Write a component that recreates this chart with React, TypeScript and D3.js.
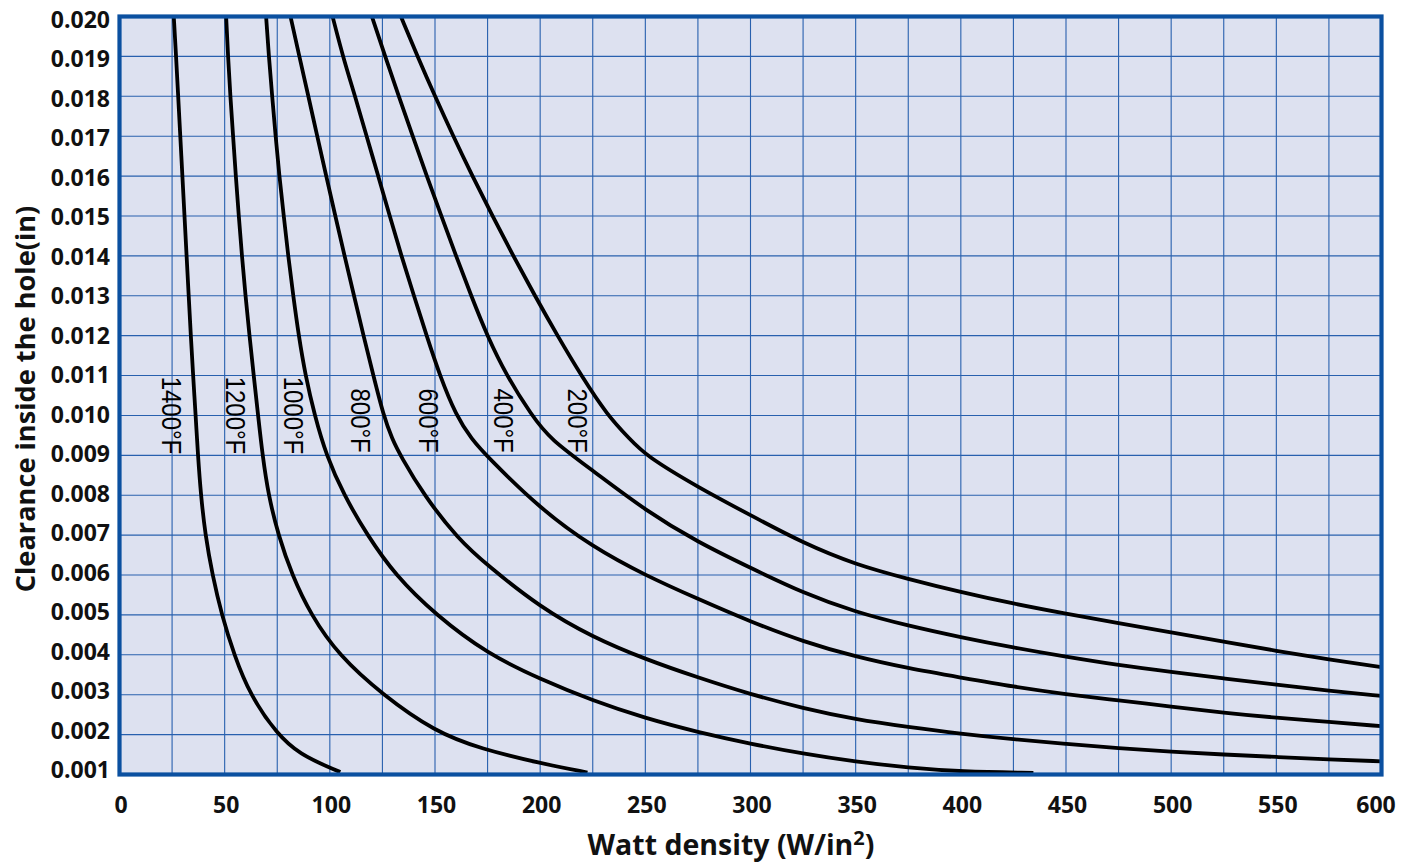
import { useEffect, useRef } from "react";
import * as d3 from "d3";

// tick labels
const X_TICKS = [0, 50, 100, 150, 200, 250, 300, 350, 400, 450, 500, 550, 600];
const Y_TICKS = [
  0.001, 0.002, 0.003, 0.004, 0.005, 0.006, 0.007, 0.008, 0.009, 0.01,
  0.011, 0.012, 0.013, 0.014, 0.015, 0.016, 0.017, 0.018, 0.019, 0.02,
];

// curves: [watt density, clearance]
const C1400: [number, number][] = [
  [25.8, 0.02], [26.9, 0.019], [27.9, 0.018], [28.9, 0.017], [29.9, 0.016], [30.9, 0.015],
  [31.9, 0.014], [32.9, 0.013], [33.9, 0.012], [35, 0.011], [36.2, 0.01], [37.3, 0.009],
  [38.7, 0.008], [40.8, 0.007], [44.2, 0.006], [48.6, 0.005], [54.5, 0.004], [62, 0.003],
  [75, 0.002], [86, 0.0015], [100, 0.00117], [105, 0.00106],
];
const C1200: [number, number][] = [
  [50.7, 0.02], [51.6, 0.019], [52.7, 0.018], [54, 0.017], [55.3, 0.016], [56.7, 0.015],
  [58.2, 0.014], [59.9, 0.013], [61.8, 0.012], [63.8, 0.011], [65.9, 0.01], [68, 0.009],
  [70.8, 0.008], [75.5, 0.007], [82, 0.006], [91, 0.005], [104, 0.004], [125, 0.003],
  [150, 0.00207], [172, 0.00164], [200, 0.00128], [222.5, 0.00105],
];
const C1000: [number, number][] = [
  [69.7, 0.02], [71, 0.019], [72.6, 0.018], [74.2, 0.017], [76, 0.016], [78.1, 0.015],
  [80.2, 0.014], [82.6, 0.013], [85.2, 0.012], [88.4, 0.011], [92.8, 0.01], [98.3, 0.009],
  [106.7, 0.008], [117.8, 0.007], [131, 0.006], [150.3, 0.005], [175, 0.00402],
  [200, 0.00339], [225, 0.00285], [250, 0.00241], [275, 0.00206], [300, 0.00177],
  [325, 0.00152], [350, 0.00132], [375, 0.00117], [400, 0.00107], [434.5, 0.00104],
];
const C800: [number, number][] = [
  [81.3, 0.02], [85.5, 0.019], [89.8, 0.018], [94, 0.017], [98.3, 0.016], [102.6, 0.015],
  [107, 0.014], [111.5, 0.013], [116, 0.012], [120.7, 0.011], [125.5, 0.01],
  [129.7, 0.0094], [133.5, 0.009], [144.7, 0.008], [161, 0.0069], [175, 0.00624],
  [200, 0.00519], [225, 0.00444], [250, 0.00389], [275, 0.00343], [300, 0.00301],
  [325, 0.00266], [350, 0.00238], [375, 0.00219], [400, 0.00202], [425, 0.00188],
  [450, 0.00177], [475, 0.00166], [500, 0.00157], [525, 0.0015], [550, 0.00144],
  [575, 0.00138], [600, 0.00133],
];
const C600: [number, number][] = [
  [101.3, 0.02], [106.2, 0.019], [112, 0.018], [117.5, 0.017], [123, 0.016], [128.5, 0.015],
  [134, 0.014], [140, 0.013], [146, 0.012], [152.3, 0.011], [160, 0.01], [167.5, 0.0094],
  [175, 0.00896], [200, 0.00766], [225, 0.0067], [250, 0.00599], [275, 0.0054],
  [300, 0.00483], [325, 0.00433], [350, 0.00395], [375, 0.00366], [400, 0.00343],
  [425, 0.0032], [450, 0.00301], [475, 0.00286], [500, 0.0027], [525, 0.00255],
  [550, 0.00242], [575, 0.00232], [600, 0.00221],
];
const C400: [number, number][] = [
  [120, 0.02], [126.3, 0.019], [132.8, 0.018], [139.4, 0.017], [146.1, 0.016], [153, 0.015],
  [160, 0.014], [167.2, 0.013], [174.8, 0.012], [184, 0.011], [196, 0.01], [204.8, 0.0094],
  [225, 0.00862], [250, 0.00762], [275, 0.00682], [300, 0.00618], [325, 0.00555],
  [350, 0.00507], [375, 0.00473], [400, 0.00444], [425, 0.00418], [450, 0.00395],
  [475, 0.00374], [500, 0.00357], [525, 0.00341], [550, 0.00325], [575, 0.0031],
  [600, 0.00297],
];
const C200: [number, number][] = [
  [133.8, 0.02], [141.7, 0.019], [150, 0.018], [158.7, 0.017], [167.8, 0.016],
  [177.3, 0.015], [187.2, 0.014], [197.5, 0.013], [208.2, 0.012], [219.5, 0.011], [232, 0.01],
  [242.8, 0.0094], [250, 0.009], [275, 0.0082], [300, 0.0075], [325, 0.0068],
  [350, 0.00626], [375, 0.0059], [400, 0.00557], [425, 0.00528], [450, 0.00503],
  [475, 0.00479], [500, 0.00456], [525, 0.00433], [550, 0.0041], [575, 0.00388],
  [600, 0.00369],
];

const LABELS = ["1400°F", "1200°F", "1000°F", "800°F", "600°F", "400°F", "200°F"];
const CURVES = [C1400, C1200, C1000, C800, C600, C400, C200];
// where each curve label sits, in chart units
const LABEL_X = [24.8, 54.9, 82.6, 114.5, 147, 182.5, 217.5];
const LABEL_Y = [0.01, 0.01, 0.01, 0.00987, 0.00987, 0.00987, 0.00987];

const W = 1414;
const H = 863;

export default function App() {
  const svgRef = useRef<SVGSVGElement>(null);

  useEffect(() => {
    if (!svgRef.current) return;
    const svg = d3.select(svgRef.current);
    svg.selectAll("*").remove();

    const x = d3.scaleLinear().domain([0, 600]).range([119.5, 1381.5]);
    const y = d3.scaleLinear().domain([0.001, 0.02]).range([774.5, 16.5]);
    // tick labels drift a little from the grid in the original
    const yLab = d3.scaleLinear().domain([0.001, 0.02]).range([770, 19.5]);

    const x0 = x(0), x1 = x(600), y0 = y(0.02), y1 = y(0.001);

    svg.append("rect")
      .attr("x", x0).attr("y", y0)
      .attr("width", x1 - x0).attr("height", y1 - y0)
      .attr("fill", "#dde1f0");

    // grid
    const grid = svg.append("g").attr("stroke", "#2860ae").attr("stroke-width", 1.1);
    grid.selectAll(".gx")
      .data(d3.range(25, 600, 25))
      .join("line")
      .attr("x1", d => x(d)).attr("x2", d => x(d))
      .attr("y1", y0).attr("y2", y1);
    grid.selectAll(".gy")
      .data(Y_TICKS.slice(1, -1))
      .join("line")
      .attr("x1", x0).attr("x2", x1)
      .attr("y1", d => y(d)).attr("y2", d => y(d));

    svg.append("clipPath").attr("id", "plot-clip")
      .append("rect")
      .attr("x", x0).attr("y", y0)
      .attr("width", x1 - x0).attr("height", y1 - y0);

    const line = d3.line<[number, number]>()
      .x(d => x(d[0]))
      .y(d => y(d[1]))
      .curve(d3.curveBasis);

    svg.append("g")
      .attr("clip-path", "url(#plot-clip)")
      .selectAll("path")
      .data(CURVES)
      .join("path")
      .attr("d", d => line(d))
      .attr("fill", "none")
      .attr("stroke", "#000")
      .attr("stroke-width", 3.8)
      .attr("stroke-linejoin", "round");

    // curve labels, rotated
    svg.append("g")
      .selectAll("text")
      .data(LABELS)
      .join("text")
      .attr("transform", (_, i) => `translate(${x(LABEL_X[i])},${y(LABEL_Y[i])}) rotate(90) scale(1,1.12)`)
      .attr("text-anchor", "middle")
      .attr("dy", "0.35em")
      .style("font-family", "'Liberation Sans', Arial, sans-serif")
      .style("font-size", "24px")
      .style("fill", "#000")
      .text(d => d);

    // frame
    svg.append("rect")
      .attr("x", x0).attr("y", y0)
      .attr("width", x1 - x0).attr("height", y1 - y0)
      .attr("fill", "none")
      .attr("stroke", "#0b50a0")
      .attr("stroke-width", 4.2);

    const font = "'Open Sans', 'Noto Sans', sans-serif";

    svg.append("g")
      .selectAll("text")
      .data(Y_TICKS)
      .join("text")
      .attr("x", 110)
      .attr("y", d => yLab(d) + 8.2)
      .attr("text-anchor", "end")
      .style("font-family", font).style("font-weight", 700).style("font-size", "23px")
      .style("fill", "#111")
      .text(d => d.toFixed(3));

    svg.append("g")
      .selectAll("text")
      .data(X_TICKS)
      .join("text")
      .attr("x", d => Math.min(x(d) + 1.5, 1376))
      .attr("y", 813)
      .attr("text-anchor", "middle")
      .style("font-family", font).style("font-weight", 700).style("font-size", "23px")
      .style("fill", "#111")
      .text(d => String(d));

    const xt = svg.append("text")
      .attr("x", 731).attr("y", 855)
      .attr("text-anchor", "middle")
      .style("font-family", font).style("font-weight", 700).style("font-size", "28.5px")
      .style("fill", "#111");
    xt.append("tspan").text("Watt density (W/in");
    xt.append("tspan").attr("dy", -10).style("font-size", "20px").text("2");
    xt.append("tspan").attr("dy", 10).text(")");

    svg.append("text")
      .attr("transform", "translate(35,399) rotate(-90)")
      .attr("text-anchor", "middle")
      .style("font-family", font).style("font-weight", 700).style("font-size", "27.2px")
      .style("fill", "#111")
      .text("Clearance inside the hole(in)");
  }, []);

  return (
    <svg
      ref={svgRef}
      width={W}
      height={H}
      style={{ position: "absolute", left: 0, top: 0, background: "#fff", display: "block" }}
    />
  );
}
